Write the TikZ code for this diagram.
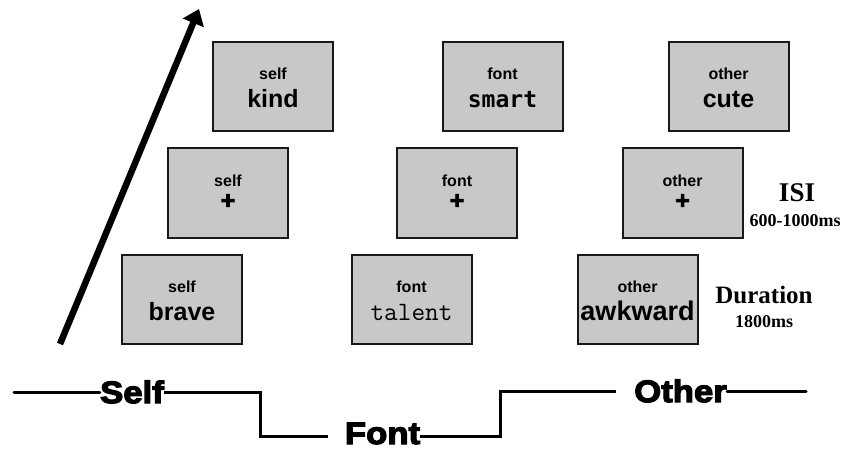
\documentclass[tikz,border=0pt]{standalone}
\usepackage{fontspec}
\setmainfont{Liberation Sans}
\newfontfamily\serifb{Liberation Serif}
\newfontfamily\monoa{DejaVu Sans Mono}
\newfontfamily\heavy[FakeStretch=1.12,FakeBold=4]{Liberation Sans}
\newfontfamily\plusfont[FakeBold=3]{Liberation Sans}
\usetikzlibrary{arrows.meta,calc}
\definecolor{boxgray}{RGB}{200,200,200}
\begin{document}
\begin{tikzpicture}[x=1pt,y=-1pt,
  stim/.style={draw=black!90,line width=2pt,fill=boxgray,minimum width=120pt,minimum height=89pt,inner sep=0pt},
  cond/.style={font=\fontsize{16}{16}\selectfont\bfseries,anchor=base,inner sep=0pt},
  word/.style={font=\fontsize{25}{25}\selectfont\bfseries,anchor=base,inner sep=0pt},
  plus/.style={font=\plusfont\bfseries\fontsize{25}{25}\selectfont,inner sep=0pt},
  side/.style={font=\serifb\bfseries\fontsize{#1}{#1}\selectfont,inner sep=0pt},
  grp/.style={font=\heavy\bfseries\fontsize{31}{31}\selectfont,inner sep=0pt},
  tl/.style={line width=3pt}
]
\useasboundingbox (0,0) rectangle (845,449);

% stimulus boxes
\node[stim] (s3) at (273,86.5) {};
\node[stim] (s2) at (228,193) {};
\node[stim] (s1) at (182,299) {};
\node[stim] (f3) at (502.5,86.5) {};
\node[stim] (f2) at (457,193) {};
\node[stim] (f1) at (411.5,299) {};
\node[stim] (o3) at (728.5,86.5) {};
\node[stim] (o2) at (682.5,193) {};
\node[stim] (o1) at (637.5,299) {};

% self column
\node[cond] (s3c) at ($(s3.center)+(0,-6.5)$) {self};
\node[word] (s3w) at ($(s3.center)+(0,21.5)$) {kind};
\node[cond] (s2c) at ($(s2.center)+(0,-7)$) {self};
\node[plus] (s2p) at ($(s2.center)+(0,8.5)$) {+};
\node[cond] (s1c) at ($(s1.center)+(0,-6.5)$) {self};
\node[word] (s1w) at ($(s1.center)+(0,21.5)$) {brave};

% font column
\node[cond] (f3c) at ($(f3.center)+(0,-6.5)$) {font};
\node[word,font=\monoa\bfseries\fontsize{23}{23}\selectfont] (f3w) at ($(f3.center)+(0,21.5)$) {smart};
\node[cond] (f2c) at ($(f2.center)+(0,-7)$) {font};
\node[plus] (f2p) at ($(f2.center)+(0,8.5)$) {+};
\node[cond] (f1c) at ($(f1.center)+(0,-6.5)$) {font};
\node[word,font=\ttfamily\fontsize{26.5}{26.5}\selectfont] (f1w) at ($(f1.center)+(0,21.5)$) {talent};

% other column
\node[cond] (o3c) at ($(o3.center)+(0,-6.5)$) {other};
\node[word] (o3w) at ($(o3.center)+(0,21.5)$) {cute};
\node[cond] (o2c) at ($(o2.center)+(0,-7)$) {other};
\node[plus] (o2p) at ($(o2.center)+(0,8.5)$) {+};
\node[cond] (o1c) at ($(o1.center)+(0,-6.5)$) {other};
\node[word,font=\fontsize{27}{27}\selectfont\bfseries] (o1w) at ($(o1.center)+(0,21.5)$) {awkward};

% timing labels
\node[side=27] (isi) at (797,193) {ISI};
\node[side=18] (isit) at (795,221) {600-1000ms};
\node[side=25] (dur) at (764,295) {Duration};
\node[side=18] (durt) at (764,322) {1800ms};

% time arrow
\coordinate (tail) at (60,344);
\coordinate (tip) at (199,9);
\draw[line width=6.5pt,-{Triangle[length=15pt,width=22pt]}] (tail) -- (tip);

% condition line
\node[grp] (self) at (132,392) {Self};
\node[grp] (font) at (382.5,433.5) {Font};
\node[grp] (other) at (680.5,391) {Other};
\coordinate (a0) at (14,392);
\coordinate (a1) at (260,392);
\coordinate (a2) at (260,436);
\coordinate (a3) at (328,436);
\coordinate (a4) at (500,436);
\coordinate (a5) at (500,391);
\coordinate (a6) at (616,391);
\coordinate (a7) at (806,391);
\draw[tl,line cap=round] (a0) -- (self.west);
\draw[tl] (self.east) -- (a1) -- (a2) -- (a3);
\draw[tl] (font.east |- a4) -- (a4) -- (a5) -- (a6);
\draw[tl,line cap=round] (other.east) -- (a7);
\end{tikzpicture}
\end{document}
